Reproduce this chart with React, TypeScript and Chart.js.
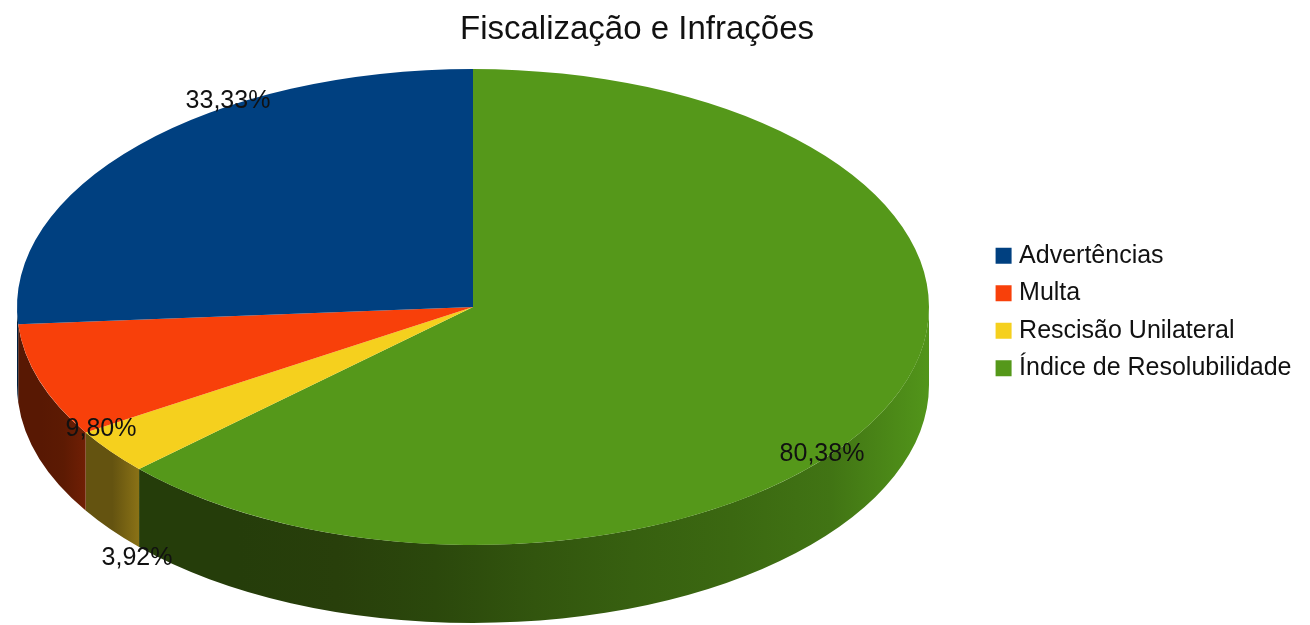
import React, { useEffect, useRef } from "react";
import { Chart, registerables } from "chart.js";

Chart.register(...registerables);

const title = "Fiscalização e Infrações";
const categories = ["Advertências", "Multa", "Rescisão Unilateral", "Índice de Resolubilidade"];
const values = [33.33, 9.8, 3.92, 80.38];
const colors = ["#004080", "#f8400a", "#f5d01e", "#55981a"];
const sideStops = [
  ["#00203f", "#00203f"],
  ["#581803", "#581803", "#5c1a03", "#701f05"],
  ["#645310", "#645310", "#8a7216"],
  ["#253d0a", "#253d0a", "#283f0b", "#2b480c", "#32550e", "#376010", "#3b6811", "#417414", "#52951a"],
];
const labelAnchors = [
  [228, 101],
  [101, 429],
  [137, 558],
  [822, 454],
];

const PIE = { cx: 473, cy: 307, rx: 456, ry: 238, depth: 78 };
const FONT = "'Liberation Sans', Arial, sans-serif";

// Chart.js turns clockwise from the top; the reference turns counter-clockwise,
// so slices are handed over in reverse and the legend is sorted back.
const orig = (i: number) => categories.length - 1 - i;

const pie3d = {
  id: "pie3d",
  afterLayout(chart: any) {
    // the title is centred on the whole picture minus the legend overhang
    chart.titleBlock.left -= 13.75;
    chart.titleBlock.right -= 13.75;
  },
  beforeDatasetsDraw(chart: any) {
    const ctx = chart.ctx;
    const { cx, cy, rx, ry, depth } = PIE;
    const arcs = chart.getDatasetMeta(0).data;
    ctx.save();
    arcs.forEach((el: any, i: number) => {
      const a = Math.max(el.startAngle, 0);
      const b = Math.min(el.endAngle, Math.PI);
      if (a >= b) return;
      const x0 = cx + rx * Math.cos(b);
      const x1 = a <= 0 ? cx + rx : cx + rx * Math.cos(a);
      const g = ctx.createLinearGradient(x0, 0, x1, 0);
      const stops = sideStops[orig(i)];
      stops.forEach((c, k) => g.addColorStop(k / (stops.length - 1), c));
      ctx.beginPath();
      ctx.ellipse(cx, cy + depth, rx, ry, 0, a, b, false);
      ctx.ellipse(cx, cy, rx, ry, 0, b, a, true);
      ctx.closePath();
      ctx.fillStyle = g;
      ctx.fill();
    });
    const first = arcs[0];
    const R = first.outerRadius;
    ctx.translate(cx, cy);
    ctx.scale(rx / R, ry / R);
    ctx.translate(-first.x, -first.y);
  },
  afterDatasetsDraw(chart: any) {
    const ctx = chart.ctx;
    ctx.restore();
    ctx.save();
    ctx.font = `25px ${FONT}`;
    ctx.fillStyle = "#111";
    ctx.textAlign = "center";
    ctx.textBaseline = "middle";
    values.forEach((v, i) => {
      const [x, y] = labelAnchors[i];
      ctx.fillText(v.toFixed(2).replace(".", ",") + "%", x, y);
    });
    ctx.restore();
  },
};

export default function App() {
  const ref = useRef<HTMLCanvasElement>(null);
  useEffect(() => {
    const chart = new Chart(ref.current as HTMLCanvasElement, {
      type: "pie",
      data: {
        labels: [...categories].reverse(),
        datasets: [
          {
            data: [...values].reverse(),
            backgroundColor: [...colors].reverse(),
            borderWidth: 0,
            clip: false,
          } as any,
        ],
      },
      options: {
        responsive: false,
        animation: false,
        layout: { padding: { top: 10, right: 8.5, bottom: 11, left: 0 } },
        plugins: {
          tooltip: { enabled: false },
          title: {
            display: true,
            text: title,
            color: "#111",
            font: { family: FONT, size: 33, weight: "normal" },
            padding: { top: 0, bottom: 14 },
          },
          legend: {
            position: "right",
            labels: {
              color: "#111",
              font: { family: FONT, size: 25 },
              usePointStyle: true,
              pointStyle: "rect",
              boxWidth: 6,
              boxHeight: 16,
              padding: 12.5,
              sort: (a: any, b: any) => b.index - a.index,
            },
          },
        },
      },
      plugins: [pie3d],
    } as any);
    return () => chart.destroy();
  }, []);
  return (
    <canvas
      ref={ref}
      width={1310}
      height={625}
      style={{ position: "fixed", left: 0, top: 0, filter: "blur(0.6px)" }}
    />
  );
}
